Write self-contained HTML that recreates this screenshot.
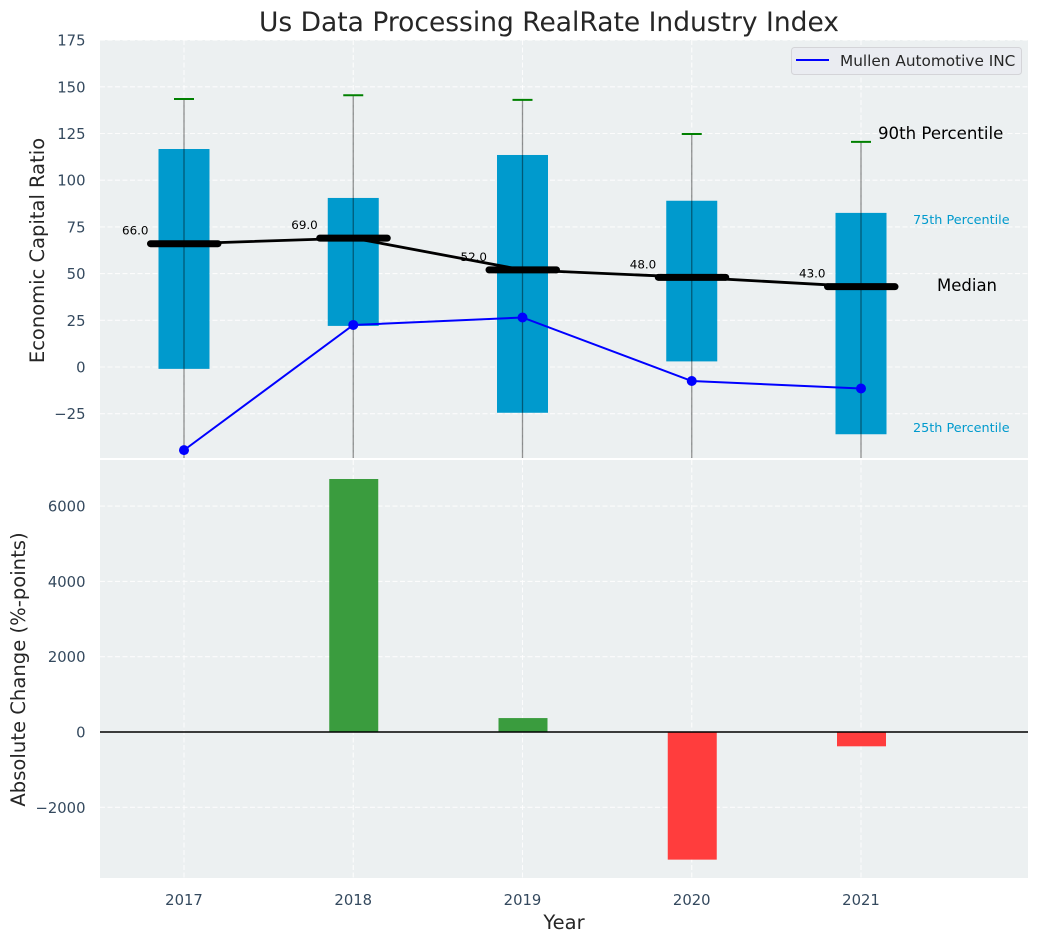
<!DOCTYPE html>
<html lang="en">
<head>
<meta charset="utf-8">
<title>Us Data Processing RealRate Industry Index</title>
<style>
html,body{margin:0;padding:0;background:#fff;width:1039px;height:942px;overflow:hidden}
svg{display:block;font-family:"DejaVu Sans","Liberation Sans",sans-serif}
</style>
</head>
<body>
<svg id="chart" xmlns="http://www.w3.org/2000/svg" width="1039" height="942" viewBox="0 0 1039 942">
<defs>
<clipPath id="clip-top"><rect x="100" y="40" width="928" height="418"></rect></clipPath>
<clipPath id="clip-bottom"><rect x="100" y="460" width="928" height="418"></rect></clipPath>
</defs>
<text x="549" y="31" text-anchor="middle" font-size="26.5px" fill="#262626">Us Data Processing RealRate Industry Index</text>
<rect x="100" y="40" width="928" height="418" fill="#ecf0f1"></rect>
<rect x="100" y="460" width="928" height="418" fill="#ecf0f1"></rect>
<g id="top-grid"></g>
<g id="bottom-grid"></g>
<g id="top-marks" clip-path="url(#clip-top)"></g>
<g id="bottom-marks" clip-path="url(#clip-bottom)"></g>
<g id="tick-labels"></g>
<text transform="translate(44,250.5) rotate(-90)" text-anchor="middle" font-size="19.5px" fill="#262626">Economic Capital Ratio</text>
<text transform="translate(25,669.5) rotate(-90)" text-anchor="middle" font-size="19.6px" fill="#262626">Absolute Change (%-points)</text>
<text x="564" y="929" text-anchor="middle" font-size="19.5px" fill="#262626">Year</text>
<text x="878" y="139" font-size="16.6px" fill="#000">90th Percentile</text>
<text x="913" y="224" font-size="12.8px" fill="#009acd">75th Percentile</text>
<text x="937" y="291" font-size="16.5px" fill="#000">Median</text>
<text x="913" y="432" font-size="12.8px" fill="#009acd">25th Percentile</text>
<g>
<rect x="791.5" y="47.5" width="230" height="27" rx="3" fill="#eaecf1" stroke="#d4d4d8" stroke-width="1"></rect>
<line x1="796" y1="60" x2="829" y2="60" stroke="#0000ff" stroke-width="2"></line>
<text x="840" y="66" font-size="15.3px" fill="#262626">Mullen Automotive INC</text>
</g>
</svg>
<script>
const years = [2017, 2018, 2019, 2020, 2021];
const p90 = [143.5, 145.5, 143, 124.7, 120.5];
const p75 = [116.7, 90.5, 113.5, 89, 82.5];
const medians = [66, 69, 52, 48, 43];
const p25 = [-1, 22, -24.5, 3, -36];
const p10 = [-75, -70, -80, -72, -85];
const mullen = [-44.5, 22.5, 26.5, -7.5, -11.5];
const changeYears = [2018, 2019, 2020, 2021];
const changes = [6720, 370, -3390, -380];
const topTicks = [175, 150, 125, 100, 75, 50, 25, 0, -25];
const bottomTicks = [6000, 4000, 2000, 0, -2000];

const NS = 'http://www.w3.org/2000/svg';
const xAxis = v => 184 + (v - 2017) * 169.25;
const yTop = v => 367 - v * 1.868;
const yBottom = v => 732 - v * 0.03765;
const fmt = v => (v < 0 ? '\u2212' + Math.abs(v) : String(v));

function mk(parentId, tag, attrs, text) {
  const el = document.createElementNS(NS, tag);
  for (const k in attrs) el.setAttribute(k, attrs[k]);
  if (text !== undefined) el.textContent = text;
  document.getElementById(parentId).appendChild(el);
  
  return el;
}
const grid = {stroke: '#ffffff', 'stroke-width': 1.1, 'stroke-dasharray': '5 2.5', opacity: 0.85};

topTicks.forEach(t => {
  const g = mk('top-grid', 'line', {x1: 100, x2: 1028, y1: yTop(t), y2: yTop(t), ...grid});
  
  const l = mk('tick-labels', 'text', {x: 85.5, y: yTop(t) + 5.5, 'text-anchor': 'end', 'font-size': '14.8px', fill: '#34495e'}, fmt(t));
  
});
bottomTicks.forEach(t => {
  if (t !== 0) {
    const g = mk('bottom-grid', 'line', {x1: 100, x2: 1028, y1: yBottom(t), y2: yBottom(t), ...grid});
    
  }
  const l = mk('tick-labels', 'text', {x: 85.5, y: yBottom(t) + 5.5, 'text-anchor': 'end', 'font-size': '14.8px', fill: '#34495e'}, fmt(t));
  
});
years.forEach(yr => {
  const x = xAxis(yr);
  const a = mk('top-grid', 'line', {x1: x, x2: x, y1: 40, y2: 458, ...grid});
  
  const b = mk('bottom-grid', 'line', {x1: x, x2: x, y1: 460, y2: 878, ...grid});
  
  const l = mk('tick-labels', 'text', {x: x, y: 905, 'text-anchor': 'middle', 'font-size': '14.8px', fill: '#34495e'}, String(yr));
  
});

years.forEach((yr, i) => {
  const x = xAxis(yr);
  const box = mk('top-marks', 'rect', {x: x - 25.5, width: 51, y: yTop(p75[i]), height: yTop(p25[i]) - yTop(p75[i]), fill: '#009acd'});
  
  const whisker = mk('top-marks', 'line', {x1: x, x2: x, y1: yTop(p90[i]), y2: yTop(p10[i]), stroke: '#000', 'stroke-opacity': 0.42, 'stroke-width': 1.3});
  
  const cap = mk('top-marks', 'line', {x1: x - 10, x2: x + 10, y1: yTop(p90[i]), y2: yTop(p90[i]), stroke: '#008000', 'stroke-width': 2});
  
  const lab = mk('top-marks', 'text', {x: x - 35.5, y: yTop(medians[i]) - 9, 'text-anchor': 'end', 'font-size': '11.9px', fill: '#000'}, medians[i].toFixed(1));
  
});
const medianLine = mk('top-marks', 'polyline', {points: years.map((yr, i) => xAxis(yr) + ',' + yTop(medians[i])).join(' '), fill: 'none', stroke: '#000', 'stroke-width': 2.8});

years.forEach((yr, i) => {
  const x = xAxis(yr);
  const m = mk('top-marks', 'line', {x1: x - 33.5, x2: x + 34, y1: yTop(medians[i]), y2: yTop(medians[i]), stroke: '#000', 'stroke-width': 7, 'stroke-linecap': 'round'});
  
});
const mullenLine = mk('top-marks', 'polyline', {points: years.map((yr, i) => xAxis(yr) + ',' + yTop(mullen[i])).join(' '), fill: 'none', stroke: '#0000ff', 'stroke-width': 2});

years.forEach((yr, i) => {
  const d = mk('top-marks', 'circle', {cx: xAxis(yr), cy: yTop(mullen[i]), r: 5, fill: '#0000ff'});
  
});

changeYears.forEach((yr, i) => {
  const v = changes[i];
  const y0 = yBottom(Math.max(v, 0));
  const y1 = yBottom(Math.min(v, 0));
  const bar = mk('bottom-marks', 'rect', {x: xAxis(yr) - 24, width: 49, y: y0, height: y1 - y0, fill: v >= 0 ? '#3a9c3e' : '#ff3d3d'});
  
});
const zero = mk('bottom-marks', 'line', {x1: 100, x2: 1028, y1: yBottom(0), y2: yBottom(0), stroke: '#000', 'stroke-width': 1.5});

</script>
</body>
</html>
